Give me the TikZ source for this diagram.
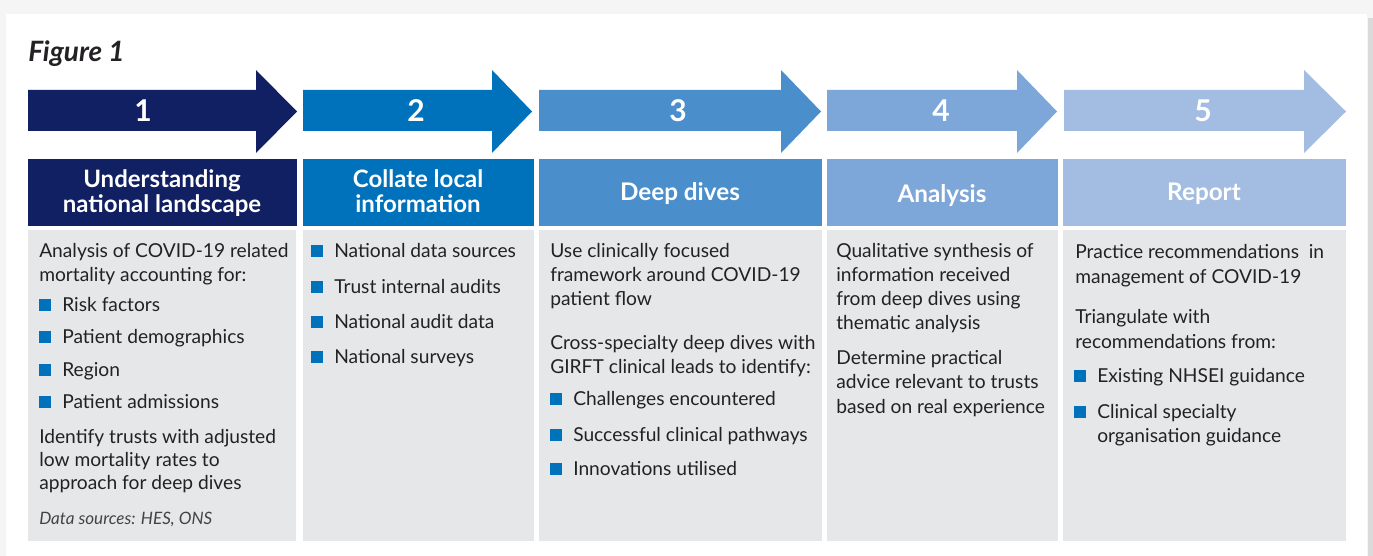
\documentclass[tikz,border=0pt]{standalone}
\usepackage{fontspec}
\setmainfont{Lato}
\definecolor{cA}{RGB}{16,32,98}
\definecolor{cB}{RGB}{0,114,188}
\definecolor{cC}{RGB}{74,142,203}
\definecolor{cD}{RGB}{125,166,217}
\definecolor{cE}{RGB}{163,189,226}
\definecolor{panelgray}{RGB}{230,231,232}
\definecolor{bullblue}{RGB}{0,114,188}
\definecolor{txt}{RGB}{35,33,35}
\definecolor{outbg}{RGB}{245,245,245}
\definecolor{edgegray}{RGB}{218,218,218}
\begin{document}
\begin{tikzpicture}[x=0.75pt,y=-0.75pt,
  body/.style={anchor=base west, inner sep=0pt, text=txt, font=\fontsize{14.4}{17}\selectfont},
  note/.style={anchor=base west, inner sep=0pt, text=txt!85, font=\fontsize{12.8}{15}\selectfont\itshape},
  hdrtwo/.style={anchor=base, inner sep=0pt, text=white, font=\fontsize{18}{21}\selectfont\bfseries},
  hdrone/.style={anchor=base, inner sep=0pt, text=white, font=\fontsize{18.2}{21}\selectfont\bfseries},
  num/.style={anchor=base, inner sep=0pt, text=white, font=\fontsize{22.5}{26}\selectfont\bfseries},
  bullsq/.style={fill=bullblue, draw=none},
  panel/.style={fill=panelgray, draw=none}
]
\useasboundingbox (0,0) rectangle (1373,556);
% background card
\fill[outbg] (0,0) rectangle (1373,556);
\fill[white] (6,14) rectangle (1367,556);
\fill[edgegray] (1368,18) rectangle (1373,556);

% title
\node[anchor=base west, inner sep=0pt, text=txt, font=\fontsize{21}{24}\selectfont\bfseries\itshape] (title) at (28,62) {Figure 1};

% arrows: body left, head base, tip
\foreach \c/\l/\h/\t in {cA/28/256/297, cB/303/492/532, cC/539/781/821, cD/827/1017/1057, cE/1064/1304/1346}{
  \fill[\c] (\l,90) -- (\h,90) -- (\h,70) -- (\t,111.5) -- (\h,153) -- (\h,131) -- (\l,131) -- cycle;
}
\node[num] (n1) at (143,122) {1};
\node[num] (n2) at (416,122) {2};
\node[num] (n3) at (678,122) {3};
\node[num] (n4) at (941,122) {4};
\node[num] (n5) at (1203,122) {5};

% header boxes
\fill[cA] (28,159) rectangle (297,226);
\fill[cB] (303,159) rectangle (534,226);
\fill[cC] (539,159) rectangle (822,226);
\fill[cD] (827,159) rectangle (1058,226);
\fill[cE] (1063,159) rectangle (1346,226);
\node[hdrtwo] (h1a) at (162,187) {Understanding};
\node[hdrtwo] (h1b) at (162,212) {national landscape};
\node[hdrtwo] (h2a) at (418,187) {Collate local};
\node[hdrtwo] (h2b) at (418,212) {information};
\node[hdrone] (h3) at (680,200) {Deep dives};
\node[hdrone] (h4) at (942,202) {Analysis};
\node[hdrone] (h5) at (1204,200) {Report};

% panels
\fill[panel] (28,230) rectangle (296,541);
\fill[panel] (303,230) rectangle (534,541);
\fill[panel] (539,230) rectangle (822,541);
\fill[panel] (827,230) rectangle (1058,541);
\fill[panel] (1063,230) rectangle (1346,541);

% panel 1
\node[body] (p1a) at (39,257) {Analysis of COVID-19 related};
\node[body] (p1b) at (39,281) {mortality accounting for:};
\foreach \b/\s [count=\i] in {311/Risk factors, 343/Patient demographics, 376/Region, 408/Patient admissions}{
  \fill[bullsq] (39,\b-12) rectangle (51,\b);
  \node[body] (p1l\i) at (62,\b) {\s};
}
\node[body] (p1c) at (39,443) {Identify trusts with adjusted};
\node[body] (p1d) at (39,466) {low mortality rates to};
\node[body] (p1e) at (39,489) {approach for deep dives};
\node[note] (p1f) at (39,524) {Data sources: HES, ONS};

% panel 2
\foreach \b/\s [count=\i] in {257/National data sources, 293/Trust internal audits, 328/National audit data, 363/National surveys}{
  \fill[bullsq] (311,\b-12) rectangle (323,\b);
  \node[body] (p2l\i) at (334,\b) {\s};
}

% panel 3
\node[body] (p3a) at (550,257) {Use clinically focused};
\node[body] (p3b) at (550,281) {framework around COVID-19};
\node[body] (p3c) at (550,305) {patient flow};
\node[body] (p3d) at (550,349) {Cross-specialty deep dives with};
\node[body] (p3e) at (550,373) {GIRFT clinical leads to identify:};
\foreach \b/\s [count=\i] in {405/Challenges encountered, 441/Successful clinical pathways, 475/Innovations utilised}{
  \fill[bullsq] (550,\b-12) rectangle (562,\b);
  \node[body] (p3l\i) at (573,\b) {\s};
}

% panel 4
\node[body] (p4a) at (836,257) {Qualitative synthesis of};
\node[body] (p4b) at (836,281) {information received};
\node[body] (p4c) at (836,305) {from deep dives using};
\node[body] (p4d) at (836,329) {thematic analysis};
\node[body] (p4e) at (836,364) {Determine practical};
\node[body] (p4f) at (836,388) {advice relevant to trusts};
\node[body] (p4g) at (836,413) {based on real experience};

% panel 5
\node[body] (p5a) at (1075,258) {Practice recommendations\ \ in};
\node[body] (p5b) at (1075,283) {management of COVID-19};
\node[body] (p5c) at (1075,323) {Triangulate with};
\node[body] (p5d) at (1075,348) {recommendations from:};
\fill[bullsq] (1074,370) rectangle (1086,382);
\node[body] (p5e) at (1097,382) {Existing NHSEI guidance};
\fill[bullsq] (1074,406) rectangle (1086,418);
\node[body] (p5f) at (1097,418) {Clinical specialty};
\node[body] (p5g) at (1097,442) {organisation guidance};
\end{tikzpicture}
\end{document}
